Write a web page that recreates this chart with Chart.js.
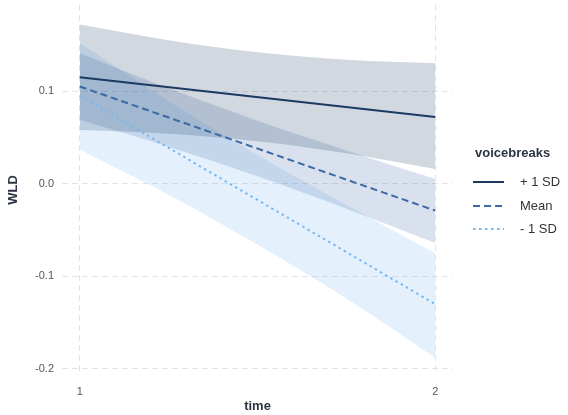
<!DOCTYPE html>
<html>
<head>
<meta charset="utf-8">
<script src="https://cdn.jsdelivr.net/npm/chart.js@4"></script>
<style>
  html, body { margin: 0; padding: 0; background: #fff; }
  #wrap { width: 568px; height: 415px; }
</style>
</head>
<body>
<div id="wrap"><canvas id="chart" width="568" height="415"></canvas></div>
<script>
// predicted WLD over time, by voicebreaks level
const times = [1, 2];
const bandTimes = [1, 1.25, 1.5, 1.75, 2];
const groupLabels = ['+ 1 SD', 'Mean', '- 1 SD'];

const fitPlus = [0.115, 0.072];
const lowPlus = [0.058, 0.054, 0.046, 0.033, 0.016];
const highPlus = [0.172, 0.155, 0.142, 0.134, 0.130];

const fitMean = [0.105, -0.029];
const lowMean = [0.069, 0.040, 0.008, -0.027, -0.064];
const highMean = [0.141, 0.103, 0.068, 0.036, 0.005];

const fitMinus = [0.095, -0.130];
const lowMinus = [0.037, -0.012, -0.066, -0.124, -0.188];
const highMinus = [0.152, 0.089, 0.031, -0.023, -0.075];

const xTicks = [1, 2];
const yTicks = [-0.2, -0.1, 0.0, 0.1];

const lineColors = ['#1b3a63', '#3b6aa5', '#7ab8ef'];
const fillColors = ['rgba(27,58,99,0.2)', 'rgba(59,106,165,0.2)', 'rgba(122,184,239,0.2)'];
const dashes = [[], [7, 4], [2.5, 3.5]];

const FONT = "'Liberation Sans', Arial, sans-serif";

function pts(xs, ys) {
    return xs.map((t, i) => ({ x: t, y: ys[i] }));
}

const fits = [fitPlus, fitMean, fitMinus];
const lows = [lowPlus, lowMean, lowMinus];
const highs = [highPlus, highMean, highMinus];

const datasets = [];
// ribbons first (upper filled down to lower)
for (let g = 0; g < 3; g++) {
    datasets.push({
        label: groupLabels[g] + ' upper',
        data: pts(bandTimes, highs[g]),
        borderWidth: 0,
        pointRadius: 0,
        cubicInterpolationMode: 'monotone',
        backgroundColor: fillColors[g],
        fill: '+1',
        order: 5
    });
    datasets.push({
        label: groupLabels[g] + ' lower',
        data: pts(bandTimes, lows[g]),
        borderWidth: 0,
        pointRadius: 0,
        cubicInterpolationMode: 'monotone',
        fill: false,
        order: 5
    });
}
for (let g = 0; g < 3; g++) {
    datasets.push({
        label: groupLabels[g],
        data: pts(times, fits[g]),
        borderColor: lineColors[g],
        borderWidth: 2,
        borderDash: dashes[g],
        pointRadius: 0,
        fill: false,
        order: 0,
        isFit: true
    });
}

// hand drawn legend, ggplot style
const legendPlugin = {
    id: 'sideLegend',
    afterDraw(chart) {
        const ctx = chart.ctx;
        ctx.save();
        ctx.fillStyle = '#2b3544';
        ctx.font = "bold 13px " + FONT;
        ctx.textAlign = 'left';
        ctx.textBaseline = 'middle';
        ctx.fillText('voicebreaks', 475, 153);
        const rows = [182, 206, 229];
        chart.data.datasets.filter(d => d.isFit).forEach((d, i) => {
            ctx.strokeStyle = d.borderColor;
            ctx.lineWidth = 2;
            ctx.setLineDash(d.borderDash);
            ctx.beginPath();
            ctx.moveTo(473, rows[i]);
            ctx.lineTo(504, rows[i]);
            ctx.stroke();
            ctx.setLineDash([]);
            ctx.fillStyle = '#333';
            ctx.font = "13px " + FONT;
            ctx.fillText(d.label, 520, rows[i]);
        });
        ctx.restore();
    }
};

function noPad(s) {
    s.paddingTop = 0; s.paddingBottom = 0; s.paddingLeft = 0; s.paddingRight = 0;
}

new Chart(document.getElementById('chart'), {
    type: 'line',
    data: { datasets: datasets },
    options: {
        responsive: false,
        animation: false,
        layout: { padding: { top: 5, right: 115, left: 0, bottom: 0 } },
        plugins: {
            legend: { display: false },
            tooltip: { enabled: false },
            filler: { propagate: false }
        },
        scales: {
            x: {
                type: 'linear',
                min: 0.95,
                max: 2.05,
                afterBuildTicks: s => { s.ticks = xTicks.map(v => ({ value: v })); },
                afterFit: s => { s.height = 40; noPad(s); },
                border: { display: false, dash: [6, 4] },
                grid: { color: '#e3e3e3', lineWidth: 1, drawTicks: false },
                ticks: { color: '#555', font: { family: FONT, size: 11 }, padding: 10 },
                title: {
                    display: true, text: 'time', color: '#2b3544',
                    font: { family: FONT, size: 13, weight: 'bold' }, padding: { top: 8, bottom: 1 }
                }
            },
            y: {
                min: -0.2065,
                max: 0.193,
                afterBuildTicks: s => { s.ticks = yTicks.map(v => ({ value: v })); },
                afterFit: s => { s.width = 62; noPad(s); },
                border: { display: false, dash: [6, 4] },
                grid: { color: '#e3e3e3', lineWidth: 1, drawTicks: false },
                ticks: {
                    color: '#555', font: { family: FONT, size: 11 }, padding: 8,
                    callback: v => v.toFixed(1)
                },
                title: {
                    display: true, text: 'WLD', color: '#2b3544',
                    font: { family: FONT, size: 13, weight: 'bold' }, padding: { top: 6, bottom: 10 }
                }
            }
        }
    },
    plugins: [legendPlugin]
});
</script>
</body>
</html>
